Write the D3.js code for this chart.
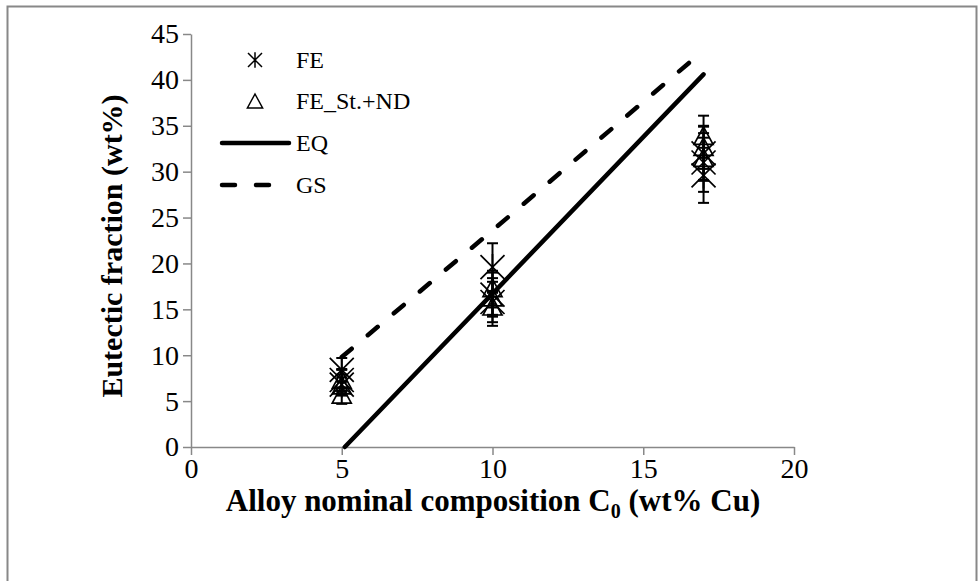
<!DOCTYPE html>
<html>
<meta charset="utf-8">
<head>
<script src="https://d3js.org/d3.v7.min.js"></script>
<title>eutectic fraction</title>
<style>
html, body {
	margin: 0;
	padding: 0;
	background: white;
}
svg {
	display: block;
}
text {
	font-family: 'Liberation Serif', 'Times New Roman', serif;
	fill: black;
}
</style>
</head>
<body>
<svg></svg>
<script>
var width = 978;
var height = 581;

// data
var compositions = [5, 10, 17];
var feValues = [[8.4, 7.3, 6.8], [19.6, 16.6, 15.8], [29.6, 31.0, 32.0]];
var feErrors = [[1.3, 1.2, 1.1], [2.6, 2.4, 2.6], [3.0, 3.2, 3.0]];
var ndValues = [[5.6, 6.6, 7.2], [15.2, 16.2, 17.2], [31.4, 32.6, 33.8]];
var ndErrors = [[0.9, 1.0, 1.2], [1.6, 1.8, 2.0], [2.3, 2.3, 2.3]];
var eqX = [5.1, 17];
var eqY = [0, 40.6];
var gsX = [5, 10, 17];
var gsY = [9.8, 23.6, 43.2];
var xTicks = [0, 5, 10, 15, 20];
var yTicks = [0, 5, 10, 15, 20, 25, 30, 35, 40, 45];

var svg = d3.select("svg")
	.attr("width", width)
	.attr("height", height);

// outer frame
svg.append("path")
	.attr("d", "M7.5,600 L7.5,6.5 L976.5,6.5 L976.5,600")
	.style("fill", "none")
	.style("stroke", "#888")
	.style("stroke-width", 2);

var x = d3.scaleLinear().domain([0, 20]).range([191, 794]);
var y = d3.scaleLinear().domain([0, 45]).range([447, 34]);

// axes
var xAxis = svg.append("g")
	.attr("transform", "translate(0," + y(0) + ")")
	.call(d3.axisBottom(x).tickValues(xTicks).tickSize(8).tickSizeOuter(0));
var yAxis = svg.append("g")
	.attr("transform", "translate(" + x(0) + ",0)")
	.call(d3.axisLeft(y).tickValues(yTicks).tickSize(8).tickSizeOuter(0));

[xAxis, yAxis].forEach(function(a) {
	a.attr("font-family", null).attr("font-size", null);
	a.select(".domain").style("stroke", "#888").style("stroke-width", 1.5);
	a.selectAll(".tick line").style("stroke", "#888").style("stroke-width", 1.5);
	a.selectAll(".tick text")
		.style("font-family", "'Liberation Serif', 'Times New Roman', serif")
		.style("font-size", "28px")
		.style("fill", "black");
});
xAxis.selectAll(".tick text").attr("dy", "0.71em").attr("y", 11);
yAxis.selectAll(".tick text").attr("x", -12);

// axis titles
var xt = svg.append("text")
	.attr("x", 493)
	.attr("y", 511)
	.attr("text-anchor", "middle")
	.style("font-weight", "bold")
	.style("font-size", "31px");
xt.append("tspan").text("Alloy nominal composition C");
xt.append("tspan").attr("dy", 7).style("font-size", "20px").text("0");
xt.append("tspan").attr("dy", -7).text(" (wt% Cu)");

svg.append("text")
	.attr("transform", "translate(122,246) rotate(-90)")
	.attr("text-anchor", "middle")
	.style("font-weight", "bold")
	.style("font-size", "30px")
	.text("Eutectic fraction (wt%)");

// lines
var line = d3.line()
	.x(function(d) { return x(d[0]); })
	.y(function(d) { return y(d[1]); });

svg.append("path")
	.datum(d3.zip(eqX, eqY))
	.attr("d", line)
	.style("fill", "none")
	.style("stroke", "black")
	.style("stroke-width", 4.5)
	.style("stroke-linecap", "round");

svg.append("path")
	.datum(d3.zip(gsX, gsY))
	.attr("d", line)
	.style("fill", "none")
	.style("stroke", "black")
	.style("stroke-width", 4.5)
	.style("stroke-linecap", "round")
	.style("stroke-dasharray", "13,21");

// points with error bars
function flatten(values, errors) {
	var pts = [];
	compositions.forEach(function(c, i) {
		values[i].forEach(function(v, j) {
			pts.push({x: c, y: v, e: errors[i][j]});
		});
	});
	return pts;
}
var fePts = flatten(feValues, feErrors);
var ndPts = flatten(ndValues, ndErrors);

function errorBars(pts) {
	var g = svg.append("g")
		.style("stroke", "black")
		.style("stroke-width", 2);
	var cap = 5.5;
	pts.forEach(function(p) {
		var cx = x(p.x);
		g.append("line")
			.attr("x1", cx).attr("x2", cx)
			.attr("y1", y(p.y - p.e)).attr("y2", y(p.y + p.e));
		[p.y - p.e, p.y + p.e].forEach(function(v) {
			g.append("line")
				.attr("x1", cx - cap).attr("x2", cx + cap)
				.attr("y1", y(v)).attr("y2", y(v));
		});
	});
}
errorBars(fePts);
errorBars(ndPts);

function star(s) {
	return "M" + (-s) + "," + (-s) + "L" + s + "," + s +
		"M" + (-s) + "," + s + "L" + s + "," + (-s) +
		"M0," + (-s * 1.1) + "L0," + (s * 1.1);
}
function triangle(s) {
	return "M0," + (-s) + "L" + (s * 0.95) + "," + (s * 0.75) +
		"L" + (-s * 0.95) + "," + (s * 0.75) + "Z";
}

svg.append("g").selectAll("path")
	.data(ndPts)
	.enter().append("path")
	.attr("transform", function(d) { return "translate(" + x(d.x) + "," + y(d.y) + ")"; })
	.attr("d", triangle(10))
	.style("fill", "none")
	.style("stroke", "black")
	.style("stroke-width", 1.7);

svg.append("g").selectAll("path")
	.data(fePts)
	.enter().append("path")
	.attr("transform", function(d) { return "translate(" + x(d.x) + "," + y(d.y) + ")"; })
	.attr("d", star(12))
	.style("fill", "none")
	.style("stroke", "black")
	.style("stroke-width", 1.7);

// legend
var legend = svg.append("g");
var rows = [
	{label: "FE", type: "star", y: 60},
	{label: "FE_St.+ND", type: "tri", y: 101},
	{label: "EQ", type: "solid", y: 143},
	{label: "GS", type: "dash", y: 185}
];
rows.forEach(function(r) {
	if (r.type == "star") {
		legend.append("path")
			.attr("transform", "translate(255," + r.y + ")")
			.attr("d", star(7))
			.style("fill", "none").style("stroke", "black").style("stroke-width", 1.5);
	} else if (r.type == "tri") {
		legend.append("path")
			.attr("transform", "translate(255," + (r.y + 1) + ")")
			.attr("d", triangle(8))
			.style("fill", "none").style("stroke", "black").style("stroke-width", 1.5);
	} else {
		legend.append("line")
			.attr("x1", 222).attr("x2", 289)
			.attr("y1", r.y).attr("y2", r.y)
			.style("stroke", "black")
			.style("stroke-width", 4.5)
			.style("stroke-linecap", "round")
			.style("stroke-dasharray", r.type == "dash" ? "13,21" : null);
	}
	legend.append("text")
		.attr("x", 296)
		.attr("y", r.y)
		.attr("dy", "0.35em")
		.style("font-size", "24px")
		.text(r.label);
});
</script>
</body>
</html>
